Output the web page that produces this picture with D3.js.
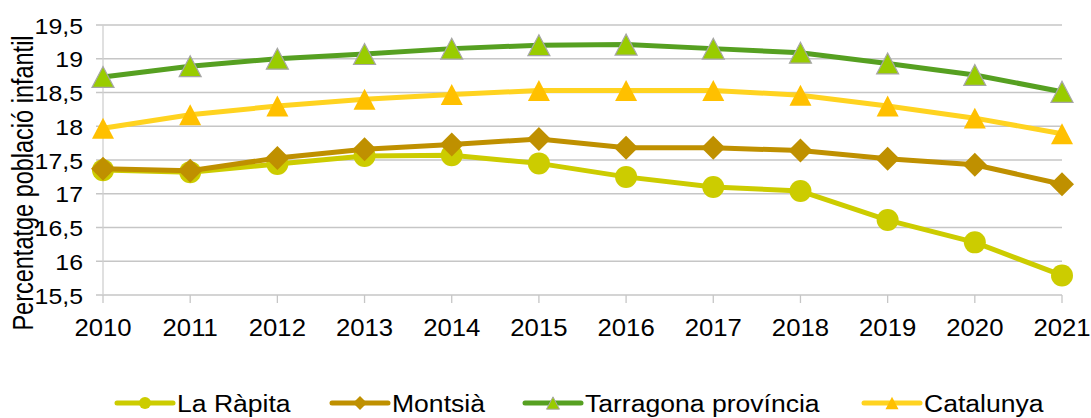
<!DOCTYPE html>
<html>
<head>
<meta charset="utf-8">
<script src="https://cdn.jsdelivr.net/npm/d3@7"></script>
<style>
  html, body { margin: 0; padding: 0; background: #fff; }
  svg { display: block; font-family: "Liberation Sans", Arial, sans-serif; }
</style>
</head>
<body>
<svg id="chart" width="1091" height="418"></svg>
<script>
const years = [2010, 2011, 2012, 2013, 2014, 2015, 2016, 2017, 2018, 2019, 2020, 2021];
const rapita = [17.35, 17.32, 17.44, 17.56, 17.57, 17.45, 17.25, 17.10, 17.04, 16.61, 16.28, 15.79];
const montsia = [17.37, 17.34, 17.53, 17.66, 17.73, 17.81, 17.68, 17.68, 17.64, 17.52, 17.43, 17.14];
const tarragona = [18.73, 18.89, 19.00, 19.07, 19.15, 19.20, 19.21, 19.15, 19.09, 18.93, 18.76, 18.51];
const catalunya = [17.97, 18.17, 18.30, 18.40, 18.47, 18.53, 18.53, 18.53, 18.46, 18.30, 18.12, 17.89];
const seriesNames = ['La Ràpita', 'Montsià', 'Tarragona província', 'Catalunya'];
const yTitle = 'Percentatge població infantil';

// text in the reference is a bit wider than plain Arial
const SX = 1.13;

const series = [
  { name: seriesNames[0], values: rapita, line: '#cccc00', fill: '#cccc00', stroke: 'none', shape: 'circle' },
  { name: seriesNames[1], values: montsia, line: '#bf9000', fill: '#bf9000', stroke: 'none', shape: 'diamond' },
  { name: seriesNames[2], values: tarragona, line: '#56a021', fill: '#99cc00', stroke: '#a6a6a6', shape: 'triangle' },
  { name: seriesNames[3], values: catalunya, line: '#ffd320', fill: '#ffc000', stroke: 'none', shape: 'triangle' }
];

const svg = d3.select('#chart');

const x = d3.scalePoint().domain(years).range([103, 1062]);
const y = d3.scaleLinear().domain([15.5, 19.5]).range([295, 25]);
const fmt = v => String(v).replace('.', ',');

function label(g, px, py, str, anchor, size, sx = SX) {
  return g.append('text')
    .attr('transform', `translate(${px},${py}) scale(${sx},1)`)
    .attr('text-anchor', anchor)
    .attr('dy', '0.35em')
    .attr('font-size', size)
    .attr('fill', '#000')
    .text(str);
}

// gridlines + y labels
const grid = svg.append('g');
y.ticks(8).forEach(t => {
  grid.append('line')
    .attr('x1', 96).attr('x2', 1062)
    .attr('y1', y(t)).attr('y2', y(t))
    .attr('stroke', '#c6c6c6').attr('stroke-width', 1.3);
  label(grid, 83, y(t) + 1, fmt(t), 'end', 22);
});

// y axis line
grid.append('line')
  .attr('x1', 103).attr('x2', 103)
  .attr('y1', 25).attr('y2', 295)
  .attr('stroke', '#d0d0d0').attr('stroke-width', 1.3);

// x ticks + labels
years.forEach(yr => {
  grid.append('line')
    .attr('x1', x(yr)).attr('x2', x(yr))
    .attr('y1', 295).attr('y2', 303)
    .attr('stroke', '#c6c6c6').attr('stroke-width', 1.3);
  label(grid, x(yr), 327, String(yr), 'middle', 24.5, 1.05);
});

// y title
svg.append('text')
  .attr('transform', `translate(33,183) scale(1.22,1) rotate(-90)`)
  .attr('text-anchor', 'middle')
  .attr('font-size', 23.5)
  .attr('fill', '#000')
  .text(yTitle);

function marker(g, shape, size) {
  if (shape === 'circle') {
    return g.append('circle').attr('r', size / 2);
  }
  if (shape === 'diamond') {
    const h = size / 2 + 1;
    return g.append('path').attr('d', `M0,${-h}L${h},0L0,${h}L${-h},0Z`);
  }
  const w = size / 2, h = size * 0.95;
  return g.append('path').attr('d', `M0,${-h / 2}L${w},${h / 2}L${-w},${h / 2}Z`);
}

const line = d3.line()
  .x((d, i) => x(years[i]))
  .y(d => y(d));

series.forEach(s => {
  const g = svg.append('g');
  g.append('path')
    .datum(s.values)
    .attr('d', line)
    .attr('fill', 'none')
    .attr('stroke', s.line)
    .attr('stroke-width', 5)
    .attr('stroke-linejoin', 'round');

  s.values.forEach((v, i) => {
    const m = g.append('g').attr('transform', `translate(${x(years[i])},${y(v)})`);
    marker(m, s.shape, 22)
      .attr('fill', s.fill)
      .attr('stroke', s.stroke)
      .attr('stroke-width', s.stroke === 'none' ? 0 : 1.2);
  });
});

// legend
const legendX = [117, 332, 525, 864];
const legend = svg.append('g');
series.forEach((s, i) => {
  const lx = legendX[i], ly = 403;
  legend.append('line')
    .attr('x1', lx).attr('x2', lx + 56)
    .attr('y1', ly).attr('y2', ly)
    .attr('stroke', s.line).attr('stroke-width', 5)
    .attr('stroke-linecap', 'round');
  const m = legend.append('g').attr('transform', `translate(${lx + 28},${ly})`);
  marker(m, s.shape, s.shape === 'triangle' ? 13 : 12)
    .attr('fill', s.fill)
    .attr('stroke', s.stroke)
    .attr('stroke-width', s.stroke === 'none' ? 0 : 1);
  label(legend, lx + 60, ly + 1, s.name, 'start', 23.5);
});
</script>
</body>
</html>
